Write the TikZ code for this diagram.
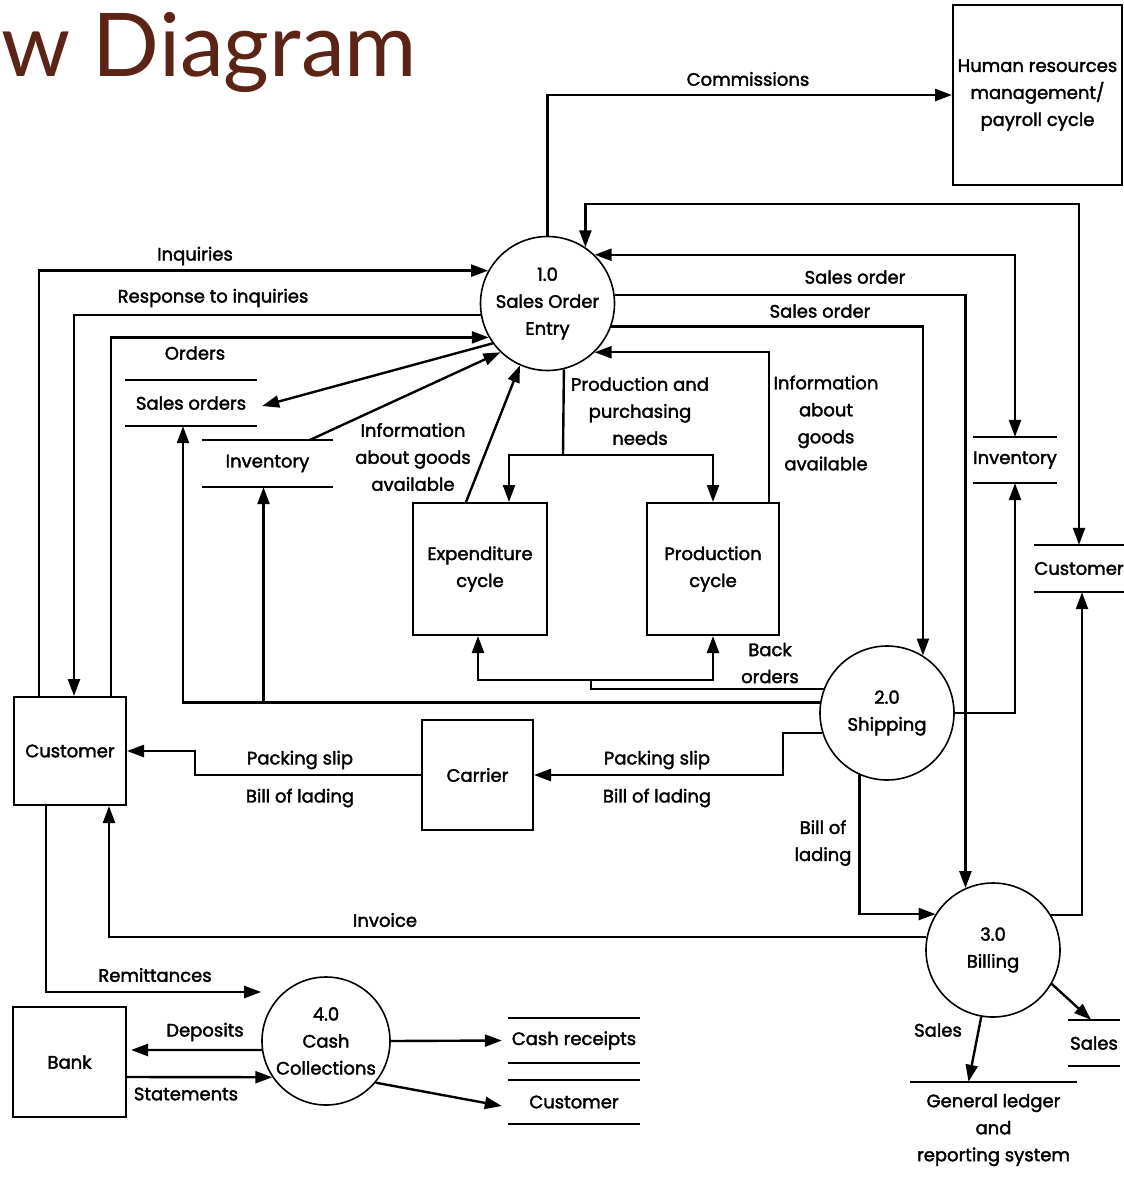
\documentclass[tikz,border=0pt]{standalone}
\usepackage{fontspec}
\setmainfont{Poppins}
\newfontfamily\dfdfamily{Poppins}[FakeBold=2]
\newfontfamily\titlefont{Lato}
\usetikzlibrary{arrows.meta,calc}
\definecolor{titlebrown}{RGB}{92,36,22}
\newcommand\dfdfont{\dfdfamily\fontsize{18}{27}\selectfont}
\begin{document}
\begin{tikzpicture}[x=1pt,y=-1pt,
  >={Triangle[length=17pt,width=12pt]},
  flow/.style={line width=2.4pt},
  proc/.style={circle,draw,line width=1.6pt,minimum size=134pt,inner sep=0pt,align=center,font=\dfdfont},
  ent/.style={rectangle,draw,line width=2pt,inner sep=0pt,align=center,font=\dfdfont},
  store/.style={inner sep=0pt,align=center,font=\dfdfont},
  lbl/.style={align=center,font=\dfdfont,inner sep=0pt},
]
\useasboundingbox[fill=white] (0,0) rectangle (1124,1178);

% title
\node[font=\titlefont\fontsize{88}{88}\selectfont, text=titlebrown, anchor=base west, inner sep=0pt] (title) at (1,76) {w Diagram};

% processes
\node[proc] (p1) at (547.5,303.5) {1.0\\Sales Order\\Entry};
\node[proc] (p2) at (887,713) {2.0\\Shipping};
\node[proc] (p3) at (993,950) {3.0\\Billing};
\node[proc, minimum size=128pt] (p4) at (326,1041) {4.0\\Cash\\Collections};

% external entities
\node[ent, minimum width=169pt, minimum height=180pt] (hr) at (1037.5,95) {Human resources\\management/\\payroll cycle};
\node[ent, minimum width=112pt, minimum height=108pt] (cust) at (70,751) {Customer};
\node[ent, minimum width=111pt, minimum height=110pt] (carrier) at (477.5,775) {Carrier};
\node[ent, minimum width=134pt, minimum height=132pt] (exp) at (480,569) {Expenditure\\cycle};
\node[ent, minimum width=132pt, minimum height=132pt] (prod) at (713,569) {Production\\cycle};
\node[ent, minimum width=113pt, minimum height=110pt] (bank) at (69.5,1062) {Bank};

% data stores
\node[store, minimum width=132pt, minimum height=46pt] (so) at (191,403) {Sales orders};
\node[store, minimum width=131pt, minimum height=47pt] (invL) at (267.5,463.5) {Inventory};
\node[store, minimum width=84pt, minimum height=46pt] (invR) at (1015,460) {Inventory};
\node[store, minimum width=90pt, minimum height=47pt] (custR) at (1079,568.5) {Customer};
\node[store, minimum width=132pt, minimum height=45pt] (cashr) at (574,1040.5) {Cash receipts};
\node[store, minimum width=132pt, minimum height=44pt] (custB) at (574,1102) {Customer};
\node[store, minimum width=52pt, minimum height=46pt] (salesS) at (1094,1043) {Sales};
\node[store, minimum width=167pt, minimum height=96pt] (gl) at (993.5,1130) {General ledger\\and\\reporting system};
\foreach \s in {so,invL,invR,custR,cashr,custB,salesS}{
  \draw[flow] (\s.north west) -- (\s.north east) (\s.south west) -- (\s.south east);
}
\draw[flow] (gl.north west) -- (gl.north east);

% connectors from / to 1.0
\draw[flow,->] (p1.north) |- (hr.west);
\draw[flow,<->] (p1.56) -- ++(0,-43) -| (custR.north);
\draw[flow,<->] (p1.46.4) -| (invR.north);
\draw[flow,->] (p1.7.3) -| (p3.114.7);
\draw[flow,->] (p1.-20.5) -| (p2.58.5);
\draw[flow,->] ([xshift=-11pt]prod.north east) |- (p1.-46.4);
\coordinate (pn) at (563,455);
\draw[flow] (p1.-76.6) -- (pn);
\draw[flow,->] (pn) -| ([xshift=-39pt]exp.north east);
\draw[flow,->] (pn) -| (prod.north);
\draw[flow,->] ([xshift=54pt]exp.north west) -- (p1.246);
\draw[flow,->] (p1.216) -- ([xshift=5pt,yshift=-3pt]so.east);
\draw[flow,->] ([xshift=-23pt]invL.north east) -- (p1.226);
\draw[flow,->] ([xshift=26pt]cust.north west) |- (p1.151.95);
\draw[flow,->] (p1.190.75) -| ([xshift=4pt]cust.north);
\draw[flow,->] ([xshift=-16pt]cust.north east) |- (p1.210);

% from 2.0
\draw[flow,->] (p2.171.4) -| ([xshift=-8pt]so.south);
\coordinate (invLb) at ([xshift=-4pt]invL.south);
\draw[flow,->] (invLb |- p2.171.4) -- (invLb);
\coordinate (bo) at (591,680);
\draw[flow] (p2.159.9) -| (bo);
\draw[flow,->] (bo) -| ([xshift=-2pt]exp.south);
\draw[flow,->] (bo) -| (prod.south);
\draw[flow,->] (p2.east) -| (invR.south);
\draw[flow,->] (p2.197.4) -| (783,775) -- (carrier.east);
\draw[flow,->] (carrier.west) -| (195,751) -- (cust.east);
\draw[flow,->] (p2.246.2) |- (p3.148.5);

% from 3.0
\draw[flow,->] (p3.31.5) -| ([xshift=3pt]custR.south);
\draw[flow,->] (p3.169.7) -| ([xshift=-18pt]cust.south east);
\draw[flow,->] (p3.-30) -- ([xshift=-3pt]salesS.north);
\draw[flow,->] (p3.260) -- ([xshift=-25pt]gl.north);

% 4.0
\draw[flow,->] ([xshift=33pt]cust.south west) |- ($(p4.west)+(0,-49)$);
\draw[flow,->] (p4.188.1) -- ([xshift=4pt,yshift=12pt]bank.east);
\draw[flow,->] ([yshift=-15pt]bank.east) -- (p4.214.2);
\draw[flow,->] (p4.east) -- ([xshift=-6pt]cashr.west);
\draw[flow,->] (p4.-40) -- ([xshift=-6pt,yshift=-4pt]custB.west);

% labels
\node[lbl] (lCom) at (748,79) {Commissions};
\node[lbl] (lInq) at (195,256) {Inquiries};
\node[lbl] (lResp) at (213,298) {Response to inquiries};
\node[lbl] (lOrd) at (195,353) {Orders};
\node[lbl] (lSo1) at (855,277) {Sales order};
\node[lbl] (lSo2) at (820,311) {Sales order};
\node[lbl] (lPpn) at (640,411) {Production and\\purchasing\\needs};
\node[lbl] (lInfR) at (826,423) {Information\\about\\goods\\available};
\node[lbl] (lInfL) at (413,457) {Information\\about goods\\available};
\node[lbl] (lBack) at (770,663) {Back\\orders};
\node[lbl] (lPs1) at (657,760) {Packing slip};
\node[lbl] (lBl1) at (657,798) {Bill of lading};
\node[lbl] (lPs2) at (300,760) {Packing slip};
\node[lbl] (lBl2) at (300,798) {Bill of lading};
\node[lbl] (lBl3) at (823,843) {Bill of\\lading};
\node[lbl] (lInv) at (385,920) {Invoice};
\node[lbl] (lRem) at (155,975) {Remittances};
\node[lbl] (lDep) at (205,1032) {Deposits};
\node[lbl] (lSta) at (186,1094) {Statements};
\node[lbl] (lSal) at (938,1030) {Sales};
\end{tikzpicture}
\end{document}
